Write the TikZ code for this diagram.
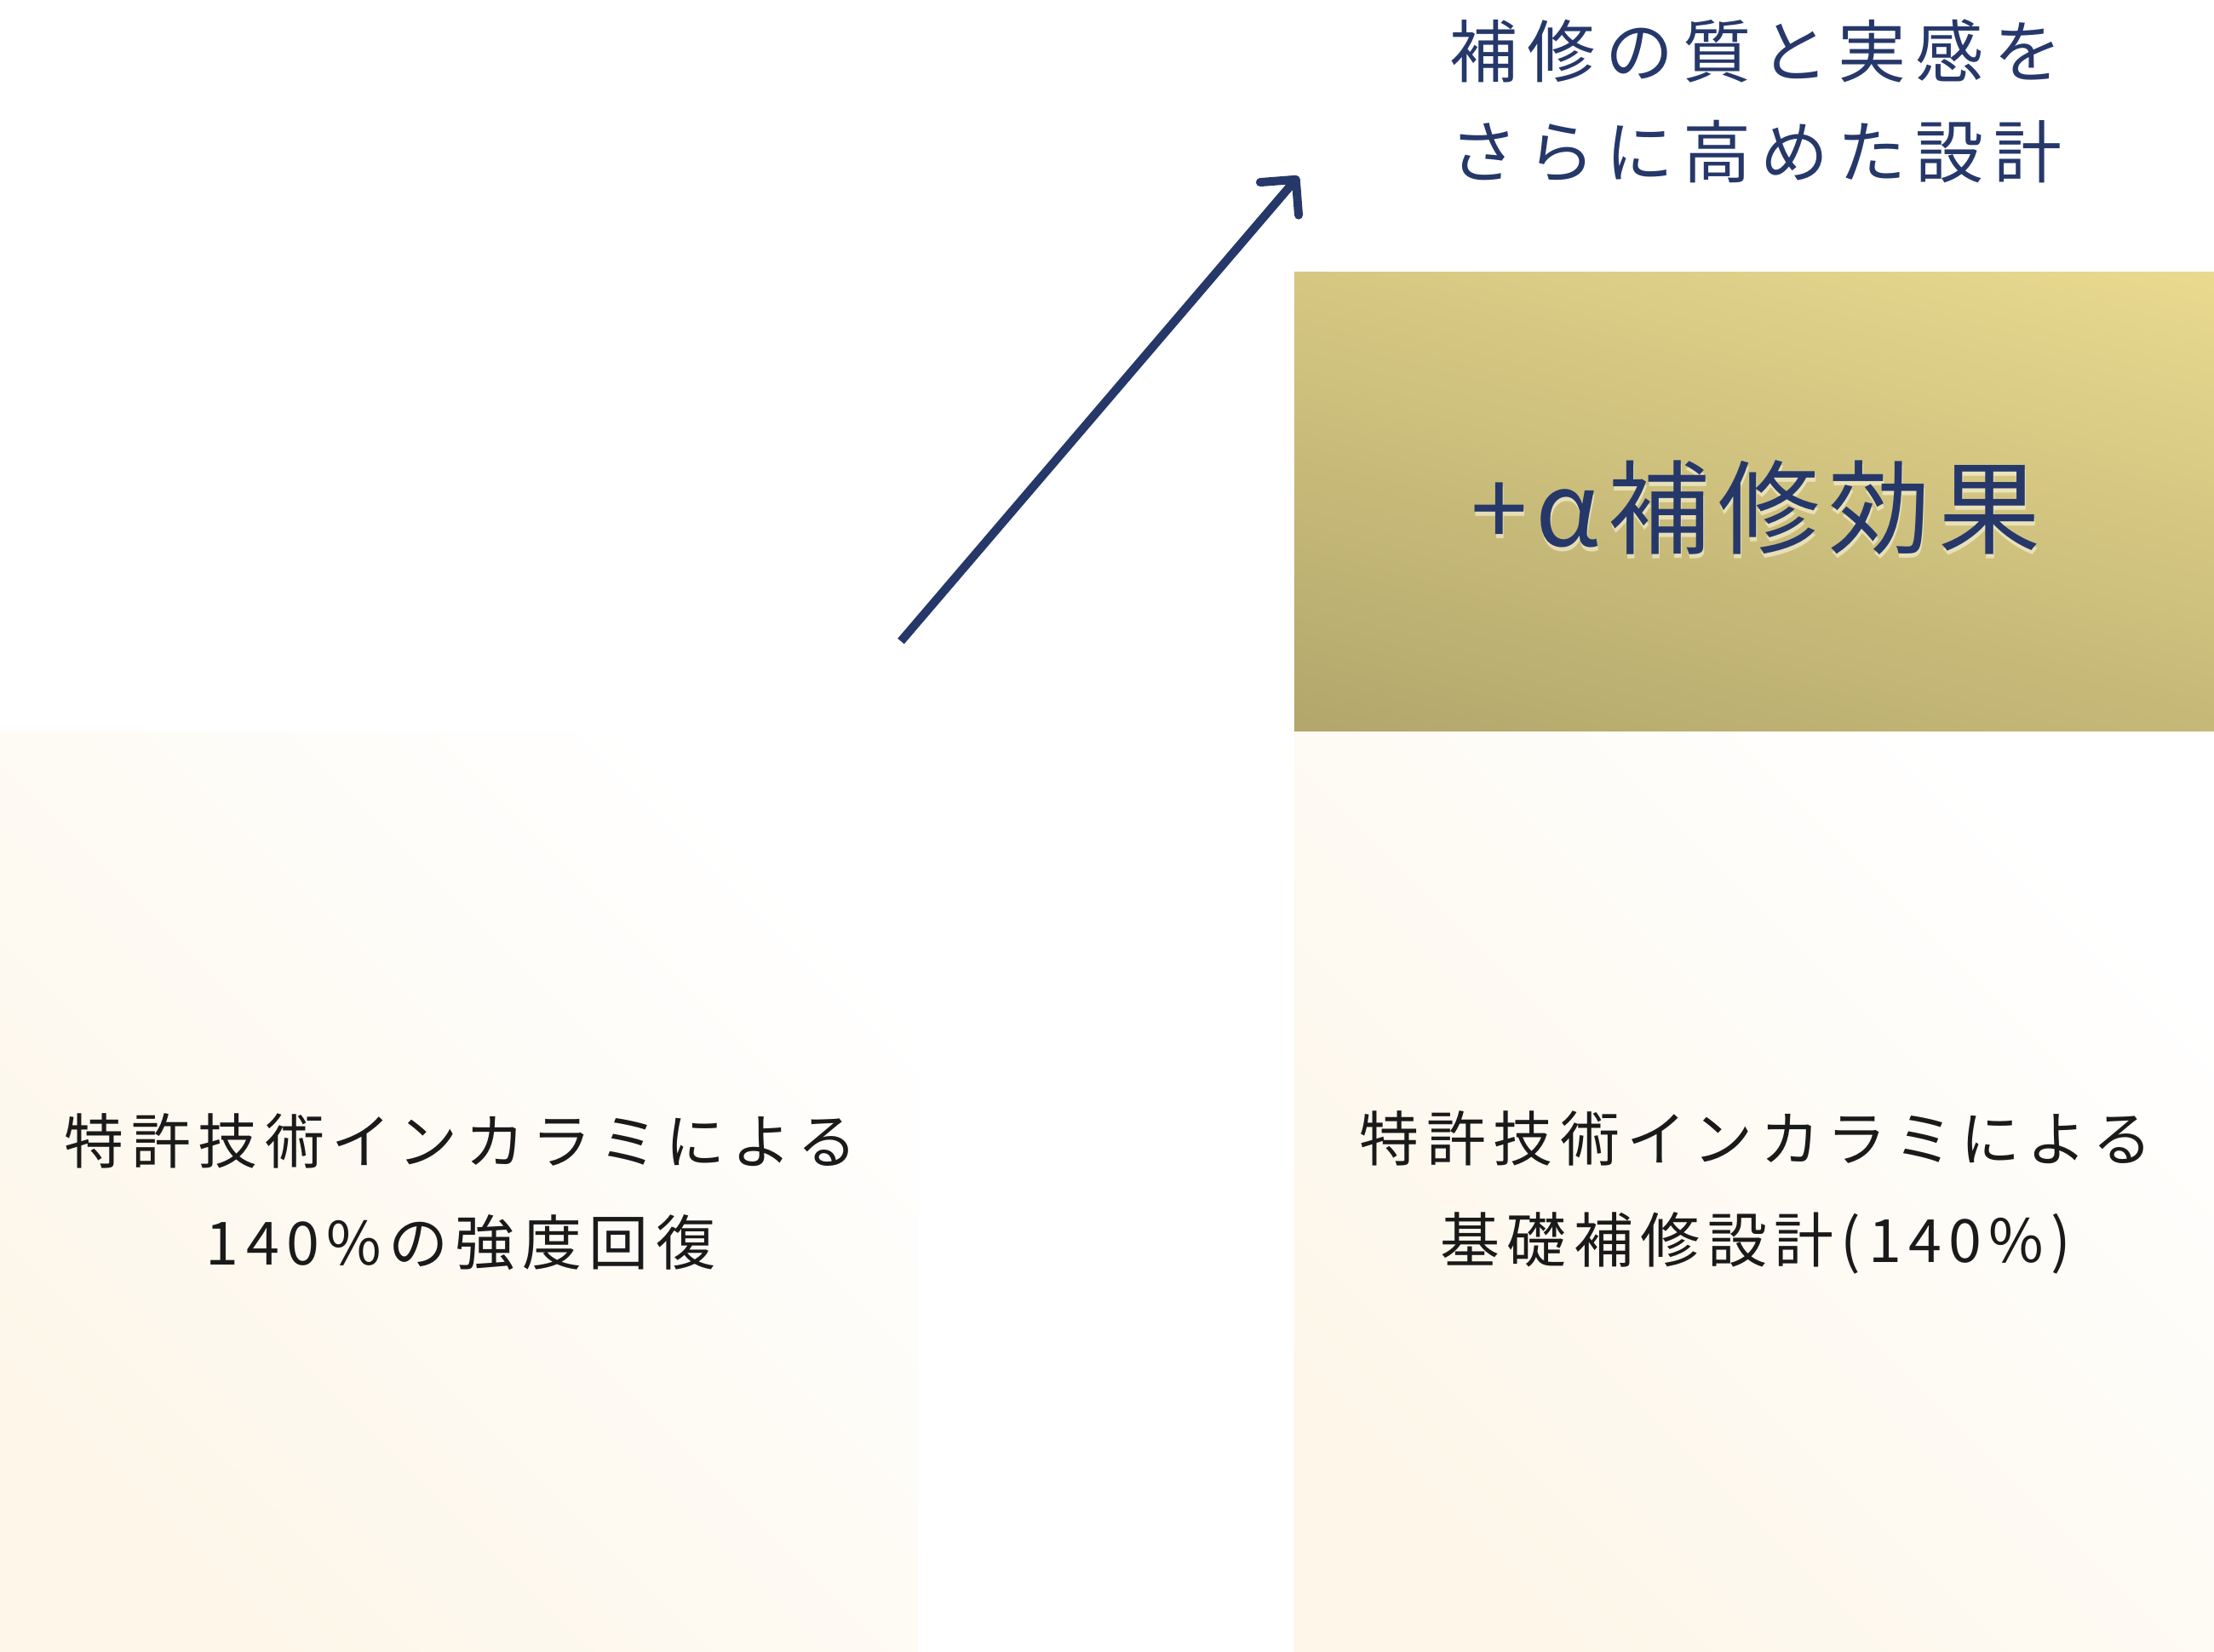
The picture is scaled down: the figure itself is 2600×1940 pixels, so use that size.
\documentclass[tikz,border=0pt]{standalone}
\usepackage{fontspec}
\setmainfont{Noto Sans CJK JP}
\newfontfamily\jpbody[LetterSpace=12]{Noto Sans CJK JP}
\newfontfamily\jptop[LetterSpace=14]{Noto Sans CJK JP}
\newfontfamily\jpgold[LetterSpace=8]{Noto Sans CJK JP}
\usetikzlibrary{arrows.meta,calc}
\definecolor{navy}{RGB}{38,56,106}
\definecolor{inkdark}{RGB}{26,26,26}
\definecolor{goldlight}{RGB}{233,218,143}
\definecolor{golddark}{RGB}{178,166,107}
\definecolor{creamdark}{RGB}{253,246,233}
\definecolor{glowcol}{RGB}{255,252,232}
\tikzset{
  goldbox/.style={rectangle, inner sep=0pt, draw=none},
  creambox/.style={rectangle, inner sep=0pt, draw=none, top color=white, bottom color=creamdark, shading angle=-45},
  bodytext/.style={inner sep=0pt, align=center, text=inkdark, font=\jpbody\fontsize{70pt}{119pt}\selectfont},
  toptext/.style={inner sep=0pt, align=center, text=navy, font=\jptop\fontsize{80pt}{118pt}\selectfont},
  goldtext/.style={inner sep=0pt, text=navy, font=\jpgold\fontsize{120pt}{130pt}\selectfont},
  glowtext/.style={goldtext, text=glowcol, text opacity=0.55},
  arrowline/.style={draw=navy, line width=10pt, line cap=butt, -{Straight Barb[angle=90:42pt, round]}}
}
\begin{document}
\begin{tikzpicture}[x=1pt,y=-1pt]
\useasboundingbox (0,0) rectangle (2600,1940);
\fill[white] (0,0) rectangle (2600,1940);
% gold box
\node[goldbox, minimum width=1080pt, minimum height=539pt] (gold) at (2060,589.5) {};
\begin{scope}
  \clip (gold.north west) rectangle (gold.south east);
  \begin{scope}[transform canvas={rotate around={-15:(gold.center)}}]
    \shade[top color=goldlight, bottom color=golddark] ($(gold.center)+(-720,-401)$) rectangle ($(gold.center)+(720,401)$);
  \end{scope}
\end{scope}
% cream boxes
\node[creambox, minimum width=1078pt, minimum height=1081pt] (leftbox) at (539,1399.5) {};
\node[creambox, minimum width=1080pt, minimum height=1081pt] (rightbox) at (2060,1399.5) {};
% top caption
\node[toptext] (caption) at (2062,119) {補修の質と実感を\\さらに高めた設計};
% gold text with light shadow
\coordinate (gt) at (2062,596);
\node[glowtext] (goldglow) at ($(gt)+(1,5)$) {+α補修効果};
\node[goldtext] (goldlabel) at (gt) {+α補修効果};
% bottom texts
\node[bodytext] (lefttext) at (541,1400) {特許技術インカラミによる\\140\%の強度回復};
\node[bodytext] (righttext) at (2062,1400) {特許技術インカラミによる\\基礎補修設計(140\%)};
% arrow
\coordinate (arrowstart) at (1058,753);
\coordinate (arrowtip) at (1525,207);
\draw[arrowline] (arrowstart) -- (arrowtip);
\end{tikzpicture}
\end{document}
